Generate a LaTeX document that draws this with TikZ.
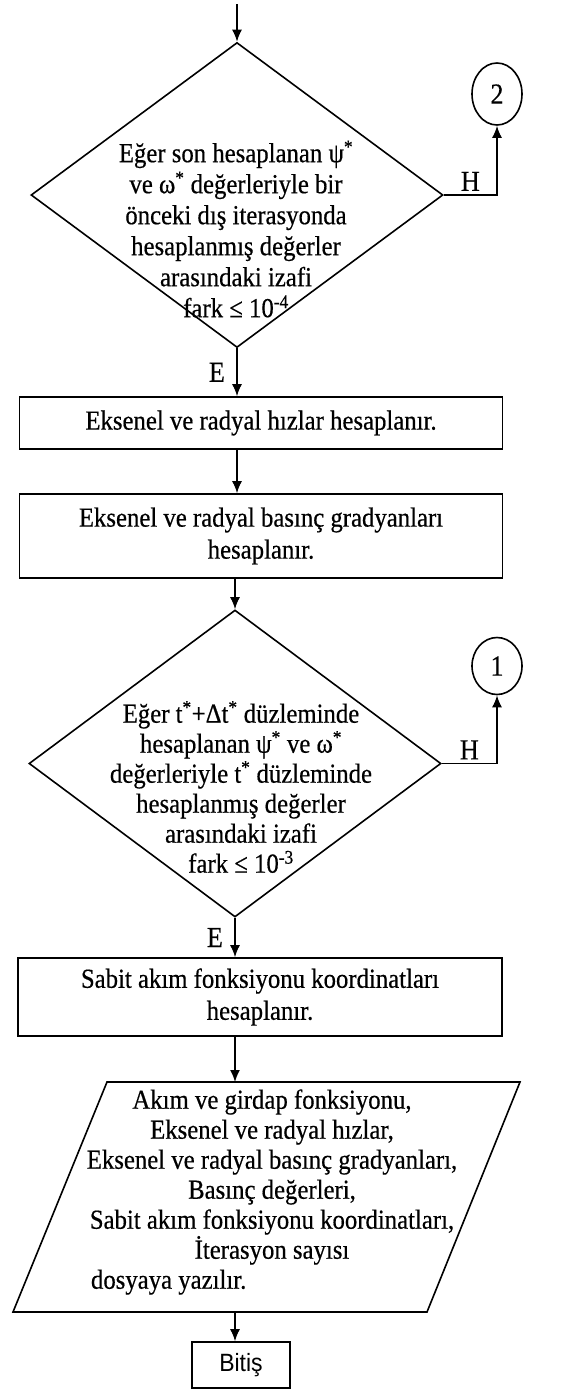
\documentclass[tikz,border=0pt]{standalone}
\usepackage{fontspec}
\setmainfont{Liberation Serif}[FakeStretch=0.9, FakeBold=0.5]
\newfontfamily\bitisfont{Liberation Sans}[FakeStretch=0.92]
\usetikzlibrary{arrows.meta}
\usetikzlibrary{shapes.geometric}
\usetikzlibrary{math}

\begin{document}
\begin{tikzpicture}[x=1pt,y=-1pt,
  line width=1.6pt,
  flow/.style={-{Latex[length=12pt,width=10pt]}},
  txt/.style={font=\fontsize{27.5}{31}\selectfont, align=center, inner sep=0pt},
  box/.style={draw, rectangle, inner sep=0pt, align=center, font=\fontsize{27.5}{32}\selectfont},
  decision/.style={draw, diamond, inner sep=0pt},
  connector/.style={draw, ellipse, minimum width=50pt, inner sep=0pt, font=\fontsize{29}{30}\selectfont},
  yesno/.style={font=\fontsize{29}{30}\selectfont}
]
\tikzmath{
\ax=237;
\bx=261;
\cx=497;
}
\useasboundingbox (0,0) rectangle (570,1390);

%first check
\coordinate (top) at (\ax,4);
\node[decision, minimum width=412pt, minimum height=305pt] (d1) at (\ax,195) {};
\node[txt] (d1txt) at (236,229) {Eğer son hesaplanan ψ\textsuperscript{*}\\ ve ω\textsuperscript{*} değerleriyle bir\\ önceki dış iterasyonda\\ hesaplanmış değerler\\ arasındaki izafi\\ fark ≤ 10\textsuperscript{-4}};
\node[connector, minimum height=62pt] (c2) at (\cx,94) {2};

%velocities and gradients
\node[box, minimum width=483pt, minimum height=52pt] (b1) at (\bx,423) {Eksenel ve radyal hızlar hesaplanır.};
\node[box, minimum width=483pt, minimum height=84pt] (b2) at (\bx,536) {Eksenel ve radyal basınç gradyanları\\ hesaplanır.};

%second check
\node[decision, minimum width=412pt, minimum height=307pt] (d2) at (235,763.5) {};
\node[txt, font=\fontsize{27.5}{30}\selectfont] (d2txt) at (241,787) {Eğer t\textsuperscript{*}+Δt\textsuperscript{*} düzleminde\\ hesaplanan ψ\textsuperscript{*} ve ω\textsuperscript{*}\\ değerleriyle t\textsuperscript{*} düzleminde\\ hesaplanmış değerler\\ arasındaki izafi\\ fark ≤ 10\textsuperscript{-3}};
\node[connector, minimum height=57pt] (c1) at (\cx,666) {1};

%stream lines
\node[box, minimum width=484pt, minimum height=78pt] (b3) at (260,997) {Sabit akım fonksiyonu koordinatları\\ hesaplanır.};

%output
\coordinate (p1) at (107,1082);
\coordinate (p2) at (520,1082);
\coordinate (p3) at (427,1312);
\coordinate (p4) at (13,1312);
\draw (p1) -- (p2) -- (p3) -- (p4) -- cycle;
\node[txt, font=\fontsize{27.5}{30}\selectfont] (out) at (272,1192) {Akım ve girdap fonksiyonu,\\ Eksenel ve radyal hızlar,\\ Eksenel ve radyal basınç gradyanları,\\ Basınç değerleri,\\ Sabit akım fonksiyonu koordinatları,\\ İterasyon sayısı\\ \makebox[362pt][l]{dosyaya yazılır.}};

\node[box, minimum width=98pt, minimum height=46pt, font=\bitisfont\fontsize{25}{28}\selectfont] (end) at (241,1365) {Bitiş};

%arrows
\draw[flow] (top) -- (d1.north);
\draw[flow] (d1.south) -- (d1.south |- b1.north) node[midway, left=8pt, yesno] {E};
\draw[flow] (d1.east) -| (c2.south) node[pos=0.25, above, yesno] {H};
\draw[flow] (b1.south -| d1.south) -- (b2.north -| d1.south);
\draw[flow] (b2.south -| d2.north) -- (d2.north);
\draw[flow] (d2.south) -- (d2.south |- b3.north) node[midway, left=8pt, yesno] {E};
\draw[flow] (d2.east) -| (c1.south) node[pos=0.25, above, yesno] {H};
\draw[flow] (b3.south -| d2.south) -- (d2.south |- p1);
\draw[flow] (p4 -| d2.south) -- (end.north -| d2.south);
\end{tikzpicture}
\end{document}
